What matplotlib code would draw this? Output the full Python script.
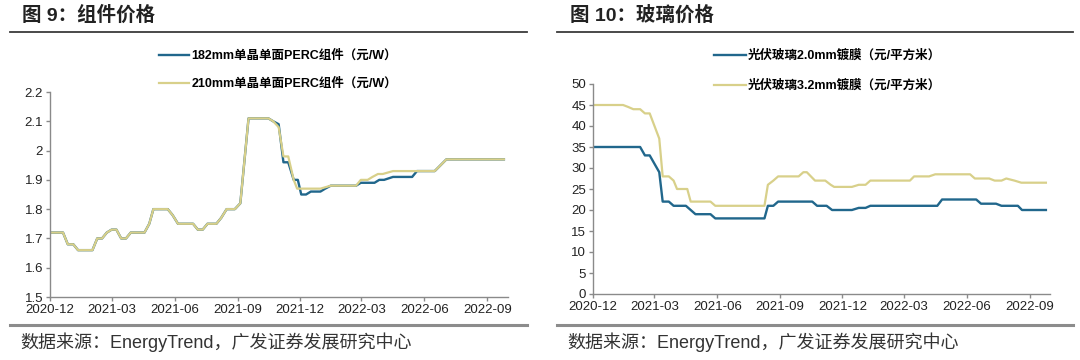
import pandas as pd
import matplotlib
matplotlib.use("Agg")
import matplotlib.pyplot as plt
import matplotlib.dates as mdates
from matplotlib.lines import Line2D
from matplotlib.ticker import FuncFormatter

plt.rcParams['font.family'] = ['Liberation Sans', 'Noto Sans CJK SC', 'DejaVu Sans']

# ---- 图 9: 组件价格 ----
m210_dates = ['2020-12-01', '2020-12-20', '2020-12-27', '2021-01-04', '2021-01-11', '2021-02-01',
              '2021-02-08', '2021-02-15', '2021-02-22', '2021-03-01', '2021-03-08', '2021-03-15',
              '2021-03-22', '2021-03-29', '2021-04-18', '2021-04-25', '2021-05-01', '2021-05-22',
              '2021-05-29', '2021-06-06', '2021-06-28', '2021-07-05', '2021-07-12', '2021-07-19',
              '2021-08-01', '2021-08-08', '2021-08-16', '2021-08-28', '2021-09-05', '2021-09-17',
              '2021-10-16', '2021-10-23', '2021-10-31', '2021-11-07', '2021-11-14', '2021-11-22',
              '2021-11-27', '2021-12-31', '2022-01-15', '2022-02-21', '2022-02-28', '2022-03-10',
              '2022-03-17', '2022-03-25', '2022-04-01', '2022-04-16', '2022-06-16', '2022-07-03',
              '2022-09-25']
m210_vals = [1.72, 1.72, 1.68, 1.68, 1.66, 1.66,
             1.70, 1.70, 1.72, 1.73, 1.73, 1.70,
             1.70, 1.72, 1.72, 1.75, 1.80, 1.80,
             1.78, 1.75, 1.75, 1.73, 1.73, 1.75,
             1.75, 1.77, 1.80, 1.80, 1.82, 2.11,
             2.11, 2.10, 2.08, 1.98, 1.98, 1.90,
             1.87, 1.87, 1.88, 1.88, 1.90, 1.90,
             1.91, 1.92, 1.92, 1.93, 1.93, 1.97,
             1.97]

# 182mm follows 210mm until late Oct 2021
m182_dates = m210_dates[:31] + ['2021-10-23', '2021-10-31', '2021-11-07', '2021-11-14', '2021-11-22',
                                '2021-11-28', '2021-12-03', '2021-12-10', '2021-12-17', '2021-12-31',
                                '2022-01-07', '2022-01-15', '2022-02-21', '2022-02-28', '2022-03-20',
                                '2022-03-27', '2022-04-03', '2022-04-16', '2022-05-14', '2022-05-21',
                                '2022-06-16', '2022-07-03', '2022-09-25']
m182_vals = m210_vals[:31] + [2.10, 2.09, 1.96, 1.96, 1.90,
                              1.90, 1.85, 1.85, 1.86, 1.86,
                              1.87, 1.88, 1.88, 1.89, 1.89,
                              1.90, 1.90, 1.91, 1.91, 1.93,
                              1.93, 1.97, 1.97]

# ---- 图 10: 玻璃价格 ----
g20_dates = ['2020-12-01', '2021-02-08', '2021-02-15', '2021-02-22', '2021-03-01', '2021-03-08',
             '2021-03-13', '2021-03-22', '2021-03-29', '2021-04-16', '2021-04-23', '2021-04-30',
             '2021-05-22', '2021-05-29', '2021-08-09', '2021-08-14', '2021-08-22', '2021-08-29',
             '2021-10-18', '2021-10-25', '2021-11-08', '2021-11-16', '2021-12-15', '2021-12-25',
             '2022-01-04', '2022-01-11', '2022-04-19', '2022-04-26', '2022-06-15', '2022-06-22',
             '2022-07-14', '2022-07-22', '2022-08-15', '2022-08-21', '2022-09-25']
g20_vals = [35, 35, 33, 33, 31, 29,
            22, 22, 21, 21, 20, 19,
            19, 18, 18, 21, 21, 22,
            22, 21, 21, 20, 20, 20.5,
            20.5, 21, 21, 22.5, 22.5, 21.5,
            21.5, 21, 21, 20, 20]

g32_dates = ['2020-12-01', '2021-01-14', '2021-01-22', '2021-01-29', '2021-02-08', '2021-02-15',
             '2021-02-22', '2021-03-01', '2021-03-08', '2021-03-13', '2021-03-22', '2021-03-29',
             '2021-04-03', '2021-04-18', '2021-04-23', '2021-05-22', '2021-05-29', '2021-08-09',
             '2021-08-14', '2021-08-22', '2021-08-29', '2021-09-28', '2021-10-05', '2021-10-10',
             '2021-10-22', '2021-11-06', '2021-11-14', '2021-11-19', '2021-12-15', '2021-12-25',
             '2022-01-04', '2022-01-11', '2022-03-10', '2022-03-16', '2022-04-07', '2022-04-16',
             '2022-06-06', '2022-06-13', '2022-07-04', '2022-07-12', '2022-07-22', '2022-07-29',
             '2022-08-10', '2022-08-20', '2022-09-25']
g32_vals = [45, 45, 44.5, 44, 44, 43,
            43, 40, 37, 28, 28, 27,
            25, 25, 22, 22, 21, 21,
            26, 27, 28, 28, 29, 29,
            27, 27, 26, 25.5, 25.5, 26,
            26, 27, 27, 28, 28, 28.5,
            28.5, 27.5, 27.5, 27, 27, 27.5,
            27, 26.5, 26.5]

tick_dates = pd.date_range('2020-12-01', '2022-09-01', freq='3MS')

BLUE = '#21678c'
YELLOW = '#d8d08a'
W, H = 1080, 360

fig = plt.figure(figsize=(10.8, 3.6), dpi=100)


def px_axes(x0, y0, x1, y1):
    return fig.add_axes([x0 / W, 1 - y1 / H, (x1 - x0) / W, (y1 - y0) / H])


def style(ax):
    for s in ['top', 'right']:
        ax.spines[s].set_visible(False)
    for s in ['left', 'bottom']:
        ax.spines[s].set_color('#8a8a8a')
        ax.spines[s].set_linewidth(1.0)
    ax.set_xlim(pd.Timestamp('2020-12-01'), pd.Timestamp('2022-10-01'))
    ax.set_xticks(tick_dates)
    ax.xaxis.set_major_formatter(mdates.DateFormatter('%Y-%m'))
    ax.tick_params(axis='both', labelsize=9.5, colors='#8a8a8a', labelcolor='#222222',
                   length=3, width=1, pad=2)


def header(x_line0, x_line1, x_text, title):
    fig.text(x_text / W, 1 - 15 / H, title, fontsize=14, fontweight='bold', color='#222222',
             va='center', ha='left')
    fig.add_artist(Line2D([x_line0 / W, x_line1 / W], [1 - 32 / H, 1 - 32 / H],
                          transform=fig.transFigure, color='#3a3a3a', lw=1.3))
    fig.add_artist(Line2D([x_line0 / W, x_line1 / W], [1 - 325 / H, 1 - 325 / H],
                          transform=fig.transFigure, color='#8c8c8c', lw=2.2))
    fig.text((x_line0 + 10) / W, 1 - 342 / H, '数据来源：EnergyTrend，广发证券发展研究中心',
             fontsize=13, color='#333333', va='center', ha='left')


# left panel
ax1 = px_axes(50, 92, 508, 297)
ax1.plot(pd.to_datetime(m182_dates), m182_vals, color=BLUE, lw=1.7,
         label='182mm单晶单面PERC组件（元/W）')
ax1.plot(pd.to_datetime(m210_dates), m210_vals, color=YELLOW, lw=1.6,
         label='210mm单晶单面PERC组件（元/W）')
ax1.set_ylim(1.5, 2.2)
ax1.set_yticks([1.5, 1.6, 1.7, 1.8, 1.9, 2.0, 2.1, 2.2])
ax1.yaxis.set_major_formatter(FuncFormatter(lambda v, p: '%g' % round(v, 2)))
style(ax1)
ax1.legend(loc='center left', bbox_to_anchor=((153 - 50) / 458, 1 + 22 / 205),
           frameon=False, labelspacing=1.25, handlelength=2.4,
           handletextpad=0.2, borderpad=0, prop={'weight': 'bold', 'size': 9})
header(10, 527, 22, '图 9：组件价格')

# right panel
ax2 = px_axes(593, 84, 1050, 294)
ax2.plot(pd.to_datetime(g20_dates), g20_vals, color=BLUE, lw=1.7,
         label='光伏玻璃2.0mm镀膜（元/平方米）')
ax2.plot(pd.to_datetime(g32_dates), g32_vals, color=YELLOW, lw=1.6,
         label='光伏玻璃3.2mm镀膜（元/平方米）')
ax2.set_ylim(0, 50)
ax2.set_yticks(range(0, 51, 5))
style(ax2)
ax2.legend(loc='center left', bbox_to_anchor=((708 - 593) / 457, 1 + 13 / 210),
           frameon=False, labelspacing=1.4, handlelength=2.5,
           handletextpad=0.2, borderpad=0, prop={'weight': 'bold', 'size': 9})
header(557, 1073, 570, '图 10：玻璃价格')

fig.savefig('out.png', dpi=100)
